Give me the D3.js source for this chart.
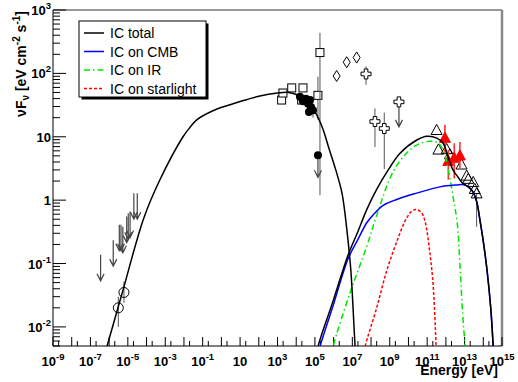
<!DOCTYPE html>
<html><head><meta charset="utf-8">
<script src="https://cdn.jsdelivr.net/npm/d3@7"></script>
<style>body{margin:0;background:#fff}svg{display:block}text{font-family:"Liberation Sans",Arial,Helvetica,sans-serif}</style>
</head><body><svg id="c" width="518" height="382"></svg>
<script>
// ---------- data (E in eV, nuFnu in eV cm^-2 s^-1) ----------
const icTotalLow = [[6.3e-7,0.004],[7.8e-7,0.005],[5.5e-6,0.038],[7.1e-5,0.52],[5.2e-4,2.1],[8.9e-3,10],[2.0e-2,13.8],[0.05,18.6],[0.355,25.7],[2.9,32],[10,36],[100,43.6],[1000,49],[4000,50],[1.6e4,43.6],[4e4,35.5],[1e5,25],[2.5e5,14],[5.6e5,6.6],[1.3e6,3.0],[2.8e6,1.29],[5.1e6,0.34],[8.3e6,0.079],[1.4e7,0.005],[1.6e7,0.003]];
const icTotalHigh = [[1.26e5,0.0035],[1.5e5,0.005],[9.5e5,0.026],[6.0e6,0.138],[2.0e7,0.32],[5.9e7,0.71],[2.0e8,1.48],[8.3e8,3.0],[3.55e9,5.5],[2.8e10,8.9],[9.8e10,10.2],[3.3e11,9.5],[7.1e11,7.9],[1.35e12,4.7],[2.4e12,3.0],[4.5e12,2.3],[7.9e12,1.85],[1.58e13,1.62],[2.8e13,1.35],[4.5e13,0.93],[6.6e13,0.49],[1e14,0.224],[1.58e14,0.079],[2.5e14,0.02],[3.3e14,0.0056],[3.8e14,0.0025]];
const icCMB = [[1.58e5,0.004],[1.86e5,0.0049],[9.5e5,0.022],[6.0e6,0.12],[2.0e7,0.24],[5.9e7,0.44],[1.32e8,0.59],[4.5e8,0.83],[3.55e9,1.07],[2.75e10,1.29],[4.8e11,1.62],[3.8e12,1.74],[7.9e12,1.76],[1.58e13,1.62],[2.8e13,1.35],[4.5e13,0.93],[6.6e13,0.49],[1e14,0.224],[1.58e14,0.079],[2.5e14,0.02],[3.3e14,0.0056],[3.8e14,0.0025]];
const icIR = [[7.9e5,0.0032],[9.5e5,0.0049],[7.4e6,0.034],[5.9e7,0.186],[2.0e8,0.575],[1.5e9,2.8],[7.9e9,5.5],[2.75e10,7.4],[1.41e11,8.5],[4.0e11,7.9],[7.9e11,5.6],[1.35e12,3.0],[2.5e12,1.07],[4.0e12,0.45],[5.6e12,0.1],[7.9e12,0.016],[1.05e13,0.005],[1.12e13,0.0025]];
const icStarlight = [[4.0e7,0.0035],[4.8e7,0.0049],[2.0e8,0.02],[6.8e8,0.076],[2.35e9,0.22],[7.9e9,0.52],[1.58e10,0.68],[2.75e10,0.71],[5.0e10,0.63],[7.6e10,0.47],[1.41e11,0.145],[2.1e11,0.044],[2.95e11,0.0055],[3.2e11,0.0025]];

const radioUpperLimits = [[3.5e-7,0.137],[1.66e-6,0.234],[3.5e-6,0.41],[4.3e-6,0.41],[5.4e-6,0.38],[8.7e-6,0.55],[1.05e-5,0.62],[1.32e-5,0.66],[2.1e-5,1.29],[3.2e-5,1.29]];
const radioPoints = [[6.2e-6,0.035,0.024,0.052],[3.1e-6,0.020,0.010,0.030]];
const xraySquares = [[1.66e3,38],[1.95e3,49],[5.75e3,59],[2.3e4,59],[1.95e4,38],[1.45e5,45,18.6,89],[1.86e5,213,1.2,437]];
const xrayCircles = [[1.58e4,42.7],[2.3e4,36.3],[3.3e4,39.8],[4.3e4,33.1],[5.5e4,38],[6.2e4,29.5],[7.9e4,26.3,20,30],[4.8e4,24.5]];
const xrayCircleLimits = [[1.45e5,5.1]];
const mevDiamonds = [[1.45e6,91],[5.0e6,150],[1.7e7,178,145,219]];
const gevCrosses = [[5.4e7,98,66,129],[1.62e8,17.4,6.9,28],[5.1e8,13.5,3.1,24]];
const gevCrossLimits = [[3.1e9,35.5]];
const tevOpenTriangles = [[3.2e11,12.6],[4.0e11,6.2],[1.1e12,6.3],[1.66e12,5.2],[6.9e12,3.6],[1.29e13,2.4],[1.58e13,2.14],[2.9e13,1.9],[3.5e13,1.48],[4.4e13,1.26,0.38,1.26]];
const tevRedTriangles = [[8.9e11,9.5,5.5,15.5],[1.35e12,4.1,2.1,6.2],[2.8e12,4.6,2.2,7.9],[5.6e12,5.0,3.2,8.3]];

const xLabelExps = [-9,-7,-5,-3,-1,1,3,5,7,9,11,13,15];
const yLabelExps = [-2,-1,0,1,2,3];
const legendLabels = ["IC total","IC on CMB","IC on IR","IC on starlight"];

// ---------- layout ----------
const svg = d3.select("#c");
const L=53,R=502,T=10,B=346;
const x = d3.scaleLog().domain([1e-9,1e15]).range([L,R]);
const y = d3.scaleLog().domain([0.005,1000]).range([B,T]);

svg.append("defs").append("clipPath").attr("id","clip")
  .append("rect").attr("x",L).attr("y",T).attr("width",R-L).attr("height",B-T);

// frame
svg.append("line").attr("x1",L).attr("x2",R).attr("y1",T).attr("y2",T).attr("stroke","#777").attr("stroke-width",1.5);
svg.append("line").attr("x1",R).attr("x2",R).attr("y1",T).attr("y2",B).attr("stroke","#888").attr("stroke-width",2.5);

// x ticks
const gx = svg.append("g");
for (let e=-9;e<=15;e++){
  const px = x(Math.pow(10,e));
  gx.append("line").attr("x1",px).attr("x2",px).attr("y1",B).attr("y2",B-9).attr("stroke","#000");
  if (e<15){ const pm = x(2*Math.pow(10,e));
    gx.append("line").attr("x1",pm).attr("x2",pm).attr("y1",B).attr("y2",B-5).attr("stroke","#000");}
}
xLabelExps.forEach(e=>{
  const t = gx.append("text").attr("x",x(Math.pow(10,e))).attr("y",366).attr("text-anchor","middle")
    .attr("font-size",13).attr("font-weight","bold");
  if (e===1){ t.text("10"); return; }
  t.append("tspan").text("10");
  t.append("tspan").attr("dy",-6).attr("font-size",9.5).text(String(e));
});
// y ticks
const gy = svg.append("g");
for (let e=-3;e<=3;e++){
  for (let m=1;m<=9;m++){
    const v=m*Math.pow(10,e); if (v<0.005||v>1000) continue;
    const py=y(v);
    gy.append("line").attr("x1",L).attr("x2",L+(m===1?13:7)).attr("y1",py).attr("y2",py).attr("stroke","#000");
  }
}
yLabelExps.forEach(e=>{
  const t = gy.append("text").attr("x",51).attr("y",y(Math.pow(10,e))+5).attr("text-anchor","end")
    .attr("font-size",13).attr("font-weight","bold");
  if (e===0){ t.text("1"); return; }
  if (e===1){ t.text("10"); return; }
  t.append("tspan").text("10");
  t.append("tspan").attr("dy",-6).attr("font-size",9.5).text(String(e));
});
// axes lines
svg.append("line").attr("x1",L).attr("x2",R).attr("y1",B).attr("y2",B).attr("stroke","#000");
svg.append("line").attr("x1",L).attr("x2",L).attr("y1",T).attr("y2",B).attr("stroke","#000");

// titles
svg.append("text").attr("x",498).attr("y",375).attr("text-anchor","end").attr("font-size",14).attr("font-weight","bold").text("Energy [eV]");
const yt = svg.append("text").attr("transform","translate(26,11) rotate(-90)").attr("text-anchor","end")
  .attr("font-size",14).attr("font-weight","bold");
yt.append("tspan").text("\u03BDF");
yt.append("tspan").attr("dy",3).attr("font-size",10).text("\u03BD");
yt.append("tspan").attr("dy",-3).text(" [eV cm");
yt.append("tspan").attr("dy",-6).attr("font-size",10).text("-2");
yt.append("tspan").attr("dy",6).text(" s");
yt.append("tspan").attr("dy",-6).attr("font-size",10).text("-1");
yt.append("tspan").attr("dy",6).text("]");

// ---------- data points ----------
const gd = svg.append("g").attr("clip-path","url(#clip)");
const errCol="#555";
function errBar(d,col,w){
  if (d.length<4) return;
  gd.append("line").attr("x1",x(d[0])).attr("x2",x(d[0])).attr("y1",y(d[2])).attr("y2",y(d[3]))
    .attr("stroke",col||errCol).attr("stroke-width",w||1);
}
function arrow(d,len){
  const px=x(d[0]),py=y(d[1]);
  gd.append("path").attr("d",`M${px},${py}L${px},${py+len}M${px-3.5},${py+len-7}L${px},${py+len}L${px+3.5},${py+len-7}`)
    .attr("fill","none").attr("stroke","#444").attr("stroke-width",1.2);
}
radioUpperLimits.forEach(d=>arrow(d,26));
radioPoints.forEach(d=>{errBar(d);
  gd.append("circle").attr("cx",x(d[0])).attr("cy",y(d[1])).attr("r",5).attr("fill","none").attr("stroke","#000");});
xraySquares.forEach(d=>{errBar(d);
  gd.append("rect").attr("x",x(d[0])-4).attr("y",y(d[1])-4).attr("width",8).attr("height",8).attr("fill","#fff").attr("stroke","#000");});
xrayCircles.forEach(d=>{errBar(d);
  gd.append("circle").attr("cx",x(d[0])).attr("cy",y(d[1])).attr("r",4).attr("fill","#000");});
xrayCircleLimits.forEach(d=>{arrow(d,22);
  gd.append("circle").attr("cx",x(d[0])).attr("cy",y(d[1])).attr("r",4).attr("fill","#000");});
mevDiamonds.forEach(d=>{errBar(d);
  const px=x(d[0]),py=y(d[1]);
  gd.append("path").attr("d",`M${px},${py-5.5}L${px+3.5},${py}L${px},${py+5.5}L${px-3.5},${py}Z`).attr("fill","#fff").attr("stroke","#000");});
function crossPath(px,py){const s=5,a=1.8;
  return `M${px-a},${py-s}H${px+a}V${py-a}H${px+s}V${py+a}H${px+a}V${py+s}H${px-a}V${py+a}H${px-s}V${py-a}H${px-a}Z`;}
gevCrosses.forEach(d=>{errBar(d);
  gd.append("path").attr("d",crossPath(x(d[0]),y(d[1]))).attr("fill","#fff").attr("stroke","#000");});
gevCrossLimits.forEach(d=>{arrow(d,25);
  gd.append("path").attr("d",crossPath(x(d[0]),y(d[1]))).attr("fill","#fff").attr("stroke","#000");});
function triPath(px,py,s){return `M${px},${py-s*1.1}L${px+s},${py+s*0.75}L${px-s},${py+s*0.75}Z`;}
tevOpenTriangles.forEach(d=>{errBar(d);
  gd.append("path").attr("d",triPath(x(d[0]),y(d[1]),5.5)).attr("fill","none").attr("stroke","#000");});
tevRedTriangles.forEach(d=>{errBar(d,"#ff3030",1.6);
  gd.append("path").attr("d",triPath(x(d[0]),y(d[1]),5.5)).attr("fill","#ff0000").attr("stroke","#ff0000");});

// ---------- model curves ----------
const line = d3.line().x(d=>x(d[0])).y(d=>y(d[1])).curve(d3.curveCatmullRom.alpha(0.5));
const gc = svg.append("g").attr("clip-path","url(#clip)").attr("fill","none");
const styles = [
  {data:icStarlight,col:"#ff0000",dash:"3,2"},
  {data:icIR,col:"#00e600",dash:"6,3,1.5,3"},
  {data:icCMB,col:"#0000ff",dash:null},
  {data:icTotalLow,col:"#000",dash:null},
  {data:icTotalHigh,col:"#000",dash:null}
];
styles.forEach(s=>{
  const p=gc.append("path").attr("d",line(s.data)).attr("stroke",s.col).attr("stroke-width",1.5);
  if (s.dash) p.attr("stroke-dasharray",s.dash);
});

// ---------- legend ----------
const lg = svg.append("g");
lg.append("rect").attr("x",81.5).attr("y",23.5).attr("width",127).attr("height",76).attr("fill","#000");
lg.append("rect").attr("x",79).attr("y",21).attr("width",127).attr("height",76).attr("fill","#fff").attr("stroke","#000");
const legStyles=[{col:"#000",dash:null},{col:"#0000ff",dash:null},{col:"#00e600",dash:"6,3,1.5,3"},{col:"#ff0000",dash:"3,2"}];
legendLabels.forEach((lab,i)=>{
  const ly = 33+i*18.5;
  const l=lg.append("line").attr("x1",84).attr("x2",104).attr("y1",ly).attr("y2",ly).attr("stroke",legStyles[i].col).attr("stroke-width",1.5);
  if (legStyles[i].dash) l.attr("stroke-dasharray",legStyles[i].dash);
  lg.append("text").attr("x",110).attr("y",ly+5).attr("font-size",14).text(lab);
});
</script></body></html>
